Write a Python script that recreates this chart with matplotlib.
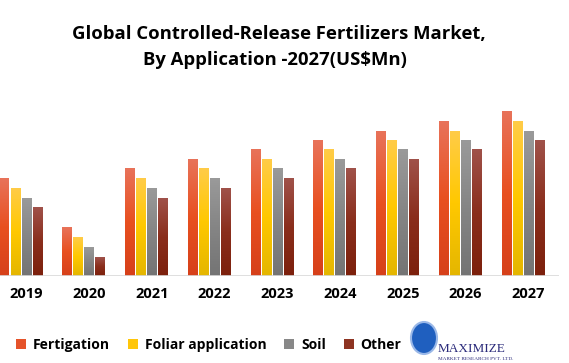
import matplotlib.pyplot as plt
import numpy as np
from matplotlib.colors import LinearSegmentedColormap
from matplotlib.patches import Patch, Ellipse

years = ["2019", "2020", "2021", "2022", "2023", "2024", "2025", "2026", "2027"]
series = ["Fertigation", "Foliar application", "Soil", "Other"]

fertigation = [97, 48, 107, 116, 126, 136, 145, 155, 165]
foliar = [87, 39, 97, 107, 116, 126, 136, 145, 155]
soil = [77, 29, 87, 97, 107, 116, 126, 136, 145]
other = [68, 19, 77, 87, 97, 107, 116, 126, 136]

# gradient stops (top, middle, bottom) per series
gradients = [
    ["#e8735a", "#e85020", "#d6401a"],
    ["#ffcc48", "#ffc800", "#e4b600"],
    ["#9a9a9a", "#858585", "#747474"],
    ["#a0524a", "#8a2e1c", "#7c200c"],
]
solid = ["#e5532a", "#ffc60a", "#888888", "#8e3422"]

fig = plt.figure(figsize=(5.69, 3.63), dpi=100)
ax = fig.add_axes([0, 1 - 276 / 363, 559 / 569, 176 / 363])

x = np.arange(len(years))
step = 11 / 62.7
width = 9 / 62.7
grad = np.linspace(1, 0, 256).reshape(-1, 1)

for i, vals in enumerate([fertigation, foliar, soil, other]):
    cmap = LinearSegmentedColormap.from_list(series[i], gradients[i][::-1])
    bars = ax.bar(x + (i - 1.5) * step, vals, width, color="none")
    for b in bars:
        ax.imshow(grad, cmap=cmap, aspect="auto", origin="upper",
                  extent=[b.get_x(), b.get_x() + b.get_width(), 0, b.get_height()],
                  vmin=0, vmax=1, zorder=2)

ax.set_xlim(-0.33, 8.58)
ax.set_ylim(0, 176)
ax.axhline(0, color="#d9d9d9", lw=1.2, zorder=3)

ax.set_xticks(x + 0.09)
ax.set_xticklabels(years, fontsize=10.5, fontweight="bold", family="Open Sans")
ax.tick_params(axis="x", length=0, pad=8)
ax.set_yticks([])
for s in ax.spines.values():
    s.set_visible(False)

fig.text(0.49, 0.907, "Global Controlled-Release Fertilizers Market,",
         ha="center", va="center", fontsize=13.3, fontweight="bold", family="Open Sans")
fig.text(0.483, 0.835, "By Application -2027(US$Mn)",
         ha="center", va="center", fontsize=13.3, fontweight="bold", family="Open Sans")

handles = [Patch(facecolor=c) for c in solid]
fig.legend(handles, series, loc="center", bbox_to_anchor=(209 / 569, 0.05), ncol=4,
           frameon=False, handlelength=0.7, handleheight=0.7, handletextpad=0.5,
           columnspacing=1.3, borderpad=0,
           prop={"family": "Open Sans", "weight": "bold", "size": 10})

# logo
fig.patches.append(Ellipse((424 / 569, 1 - 338 / 363), 26 / 569, 32 / 363,
                           transform=fig.transFigure, facecolor="#1f5fbf",
                           edgecolor="#9ab8e8", lw=1.5))
fig.text(438 / 569, 1 - 349 / 363, "MAXIMIZE", fontsize=9.5, family="Liberation Serif",
         color="#2a2a7a", va="center", ha="left")
fig.text(438 / 569, 1 - 359 / 363, "MARKET RESEARCH PVT. LTD.", fontsize=3.8,
         family="Liberation Serif", color="#2a2a7a", va="center", ha="left")

fig.savefig("out.png", dpi=100)
